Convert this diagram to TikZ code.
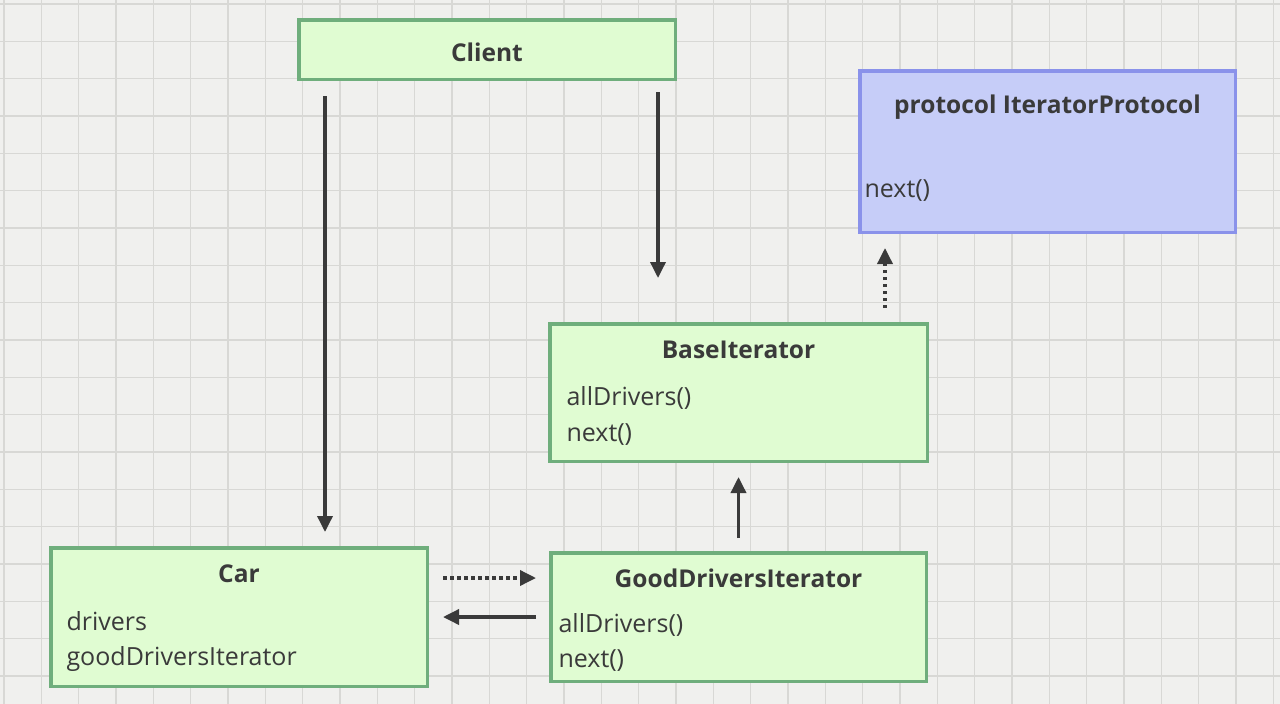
\documentclass[tikz,border=0pt]{standalone}
\usepackage{fontspec}
\setmainfont{Open Sans}
\usetikzlibrary{arrows.meta}
\definecolor{paper}{HTML}{F0F0EE}
\definecolor{gridgray}{HTML}{D8D8D5}
\definecolor{clsfill}{HTML}{E0FCD2}
\definecolor{clsborder}{HTML}{6FAE7C}
\definecolor{protofill}{HTML}{C6CDF8}
\definecolor{protoborder}{HTML}{8A92EA}
\definecolor{ink}{HTML}{3A3A3A}
\begin{document}
\begin{tikzpicture}[x=1pt,y=-1pt,
  cls/.style={draw=clsborder,fill=clsfill,line width=3.5pt,inner sep=0pt},
  proto/.style={cls,draw=protoborder,fill=protofill},
  title/.style={anchor=base,text=ink,font=\bfseries\fontsize{24.5}{28}\selectfont},
  member/.style={anchor=base west,text=ink,font=\fontsize{25}{29}\selectfont},
  arr/.style={draw=ink,line width=3.5pt,-{Triangle[width=15pt,length=16pt]}},
  dots/.style={arr,dash pattern=on 3.5pt off 3.5pt}]
\fill[paper] (0,0) rectangle (1280,704);
\useasboundingbox (0,0) rectangle (1280,704);
\foreach \i in {0,...,34} {
  \draw[gridgray,line width=1.2pt] (4+37.33*\i,0) -- (4+37.33*\i,704);
}
\foreach \j in {0,...,18} {
  \draw[gridgray,line width=1.2pt] (0,4+37.33*\j) -- (1280,4+37.33*\j);
}
\node[cls,minimum width=376.5pt,minimum height=59.5pt] (client) at (487,49.5) {};
\node[proto,minimum width=375.5pt,minimum height=161.5pt] (proto) at (1047.5,151.5) {};
\node[cls,minimum width=377.5pt,minimum height=137.5pt] (base) at (738.5,392.5) {};
\node[cls,minimum width=376.5pt,minimum height=138.5pt] (car) at (239,617) {};
\node[cls,minimum width=375.5pt,minimum height=128.5pt] (good) at (738.5,617) {};
\node[title] (clienttitle) at (487,61) {Client};
\node[title] (prototitle) at (1047.5,113) {protocol IteratorProtocol};
\node[member] (protonext) at (861,197) {next()};
\node[title] (basetitle) at (738.5,358) {BaseIterator};
\node[member] (baseall) at (563,405) {allDrivers()};
\node[member] (basenext) at (563,441) {next()};
\node[title] (cartitle) at (239,582) {Car};
\node[member] (cardrivers) at (63,630) {drivers};
\node[member] (cariter) at (63,665) {goodDriversIterator};
\node[title] (goodtitle) at (738.5,587) {GoodDriversIterator};
\node[member] (goodall) at (555,632) {allDrivers()};
\node[member] (goodnext) at (555,667) {next()};
\draw[arr,shorten <=15pt,shorten >=14pt] ([xshift=28pt]client.south west) -- ([xshift=276pt]car.north west);
\draw[arr,shorten <=11pt,shorten >=44pt] ([xshift=361pt]client.south west) -- ([xshift=110pt]base.north west);
\draw[dots,shorten <=14pt,shorten >=14pt] ([xshift=337pt]base.north west) -- ([xshift=27pt]proto.south west);
\draw[arr,shorten <=13pt,shorten >=14pt] (good.north) -- (base.south);
\draw[dots,shorten <=14pt,shorten >=13pt] ([yshift=39pt]car.east) -- ([yshift=39pt]good.west);
\draw[arr,shorten <=13pt,shorten >=14pt] (good.west) -- (car.east);
\end{tikzpicture}
\end{document}
